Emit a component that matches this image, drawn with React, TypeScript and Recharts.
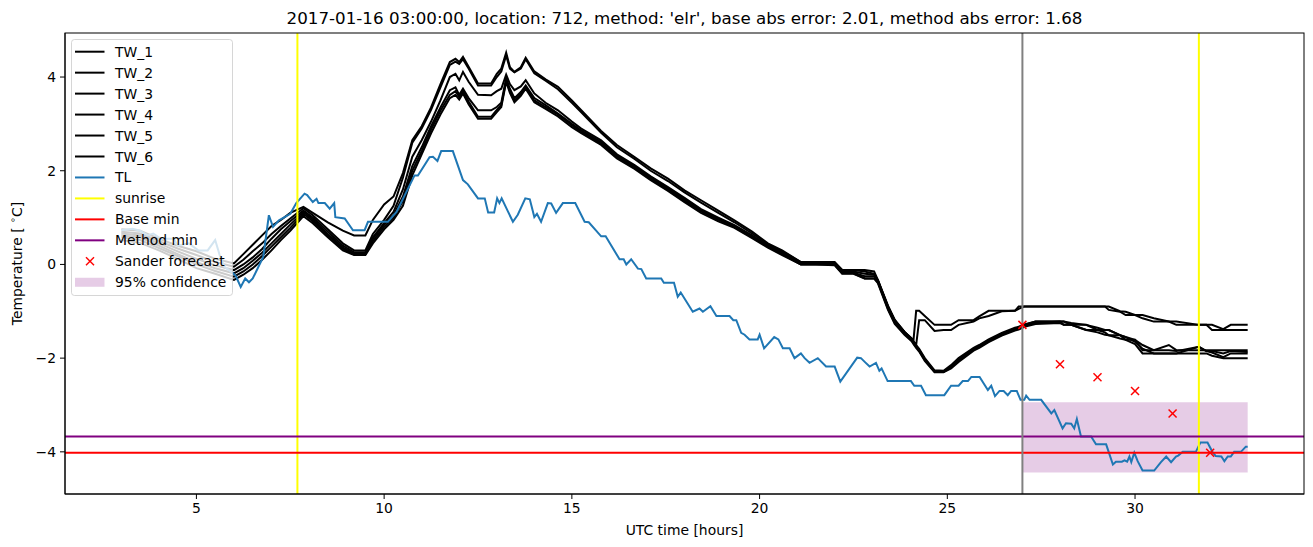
import React from "react";
import {
  ComposedChart,
  Line,
  Scatter,
  XAxis,
  YAxis,
  ReferenceLine,
  ReferenceArea,
} from "recharts";

// time grid (hours UTC) shared by the six TW series
const twHours = [
  3.0, 3.5, 4.0, 4.5, 5.0, 5.5, 6.0, 6.25, 6.5, 6.75,
  7.0, 7.25, 7.5, 7.85, 8.1, 8.5, 8.9, 9.2, 9.5, 9.7,
  10.0, 10.25, 10.5, 10.75, 11.0, 11.25, 11.5, 11.75, 11.9, 12.0,
  12.1, 12.25, 12.5, 12.85, 13.0, 13.12, 13.25, 13.35, 13.47, 13.64,
  13.77, 14.0, 14.3, 14.63, 15.0, 15.25, 15.78, 16.2, 16.67, 17.1,
  17.56, 18.0, 18.44, 18.9, 19.33, 19.8, 20.22, 20.6, 21.1, 21.5,
  22.0, 22.2, 22.5, 22.8, 23.05, 23.15, 23.42, 23.6, 23.86, 24.05,
  24.1, 24.17, 24.25, 24.4, 24.66, 24.9, 25.1, 25.3, 25.7, 25.85,
  26.1, 26.45, 26.8, 26.9, 27.05, 27.35, 28.0, 28.1, 28.3, 28.7,
  29.0, 29.2, 29.3, 29.6, 29.75, 30.0, 30.2, 30.5, 30.9, 31.1,
  31.7, 31.9, 32.05, 32.35, 32.55, 33.0,
];

const tw1 = [
  0.75, 0.72, 0.55, 0.40, 0.28, 0.12, 0.02, 0.22, 0.42, 0.62,
  0.82, 0.95, 1.10, 1.23, 1.10, 0.90, 0.72, 0.62, 0.62, 0.95,
  1.28, 1.45, 1.95, 2.65, 2.95, 3.35, 3.85, 4.32, 4.39, 4.32,
  4.43, 4.22, 3.86, 3.86, 4.07, 4.18, 4.52, 4.21, 4.11, 4.21,
  4.41, 4.12, 3.95, 3.79, 3.50, 3.29, 2.85, 2.55, 2.29, 2.05,
  1.83, 1.58, 1.37, 1.15, 0.94, 0.70, 0.45, 0.30, 0.05, 0.05,
  0.05, -0.12, -0.12, -0.12, -0.15, -0.33, -0.88, -1.18, -1.44, -1.58,
  -1.61, -0.99, -0.99, -1.10, -1.29, -1.29, -1.29, -1.19, -1.19, -1.11,
  -0.99, -0.99, -0.99, -0.90, -0.90, -0.90, -0.90, -0.90, -0.90, -0.90,
  -0.90, -0.90, -0.97, -1.01, -1.08, -1.08, -1.15, -1.22, -1.22, -1.29,
  -1.29, -1.29, -1.29, -1.38, -1.29, -1.29,
];

const tw2 = [
  0.70, 0.66, 0.50, 0.34, 0.20, 0.05, -0.05, 0.10, 0.28, 0.45,
  0.65, 0.82, 0.98, 1.20, 1.05, 0.75, 0.45, 0.30, 0.30, 0.65,
  0.95, 1.25, 1.85, 2.60, 2.90, 3.30, 3.78, 4.26, 4.33, 4.28,
  4.38, 4.18, 3.82, 3.82, 4.00, 4.12, 4.46, 4.18, 4.10, 4.18,
  4.38, 4.08, 3.92, 3.74, 3.45, 3.25, 2.81, 2.50, 2.25, 2.00,
  1.78, 1.54, 1.32, 1.10, 0.90, 0.66, 0.43, 0.28, 0.05, 0.05,
  0.03, -0.12, -0.12, -0.15, -0.20, -0.35, -0.90, -1.20, -1.44, -1.60,
  -1.65, -1.72, -1.19, -1.19, -1.42, -1.40, -1.40, -1.29, -1.22, -1.15,
  -1.10, -1.00, -0.99, -0.95, -0.90, -0.90, -0.90, -0.90, -0.90, -0.90,
  -0.90, -0.90, -0.90, -1.00, -1.01, -1.08, -1.08, -1.15, -1.22, -1.22,
  -1.29, -1.29, -1.40, -1.40, -1.40, -1.40,
];

const tw3 = [
  0.66, 0.62, 0.45, 0.28, 0.12, -0.02, -0.12, 0.00, 0.15, 0.33,
  0.55, 0.75, 0.92, 1.15, 1.00, 0.70, 0.40, 0.26, 0.26, 0.58,
  0.88, 1.12, 1.60, 2.30, 2.65, 3.05, 3.50, 4.00, 4.07, 3.93,
  4.11, 3.90, 3.62, 3.61, 3.70, 3.75, 4.05, 3.85, 3.72, 3.80,
  3.93, 3.65, 3.45, 3.29, 3.05, 2.90, 2.65, 2.35, 2.12, 1.88,
  1.65, 1.42, 1.18, 1.00, 0.84, 0.62, 0.40, 0.25, 0.02, 0.02,
  0.02, -0.15, -0.15, -0.20, -0.22, -0.33, -0.90, -1.20, -1.44, -1.58,
  -1.64, -1.72, -1.80, -2.00, -2.26, -2.27, -2.15, -2.00, -1.78, -1.72,
  -1.60, -1.46, -1.35, -1.33, -1.28, -1.22, -1.22, -1.29, -1.29, -1.40,
  -1.40, -1.45, -1.51, -1.51, -1.61, -1.61, -1.83, -1.83, -1.72, -1.83,
  -1.83, -1.83, -1.83, -1.83, -1.83, -1.83,
];

const tw4 = [
  0.62, 0.58, 0.40, 0.22, 0.05, -0.08, -0.19, -0.08, 0.08, 0.25,
  0.45, 0.65, 0.85, 1.12, 0.96, 0.65, 0.36, 0.23, 0.23, 0.55,
  0.85, 1.05, 1.45, 2.10, 2.50, 2.95, 3.35, 3.72, 3.78, 3.62,
  3.75, 3.55, 3.29, 3.29, 3.36, 3.45, 3.97, 3.75, 3.55, 3.68,
  3.82, 3.55, 3.40, 3.22, 3.00, 2.86, 2.61, 2.32, 2.10, 1.85,
  1.62, 1.39, 1.16, 0.98, 0.82, 0.60, 0.40, 0.24, 0.02, 0.02,
  0.00, -0.18, -0.18, -0.25, -0.25, -0.35, -0.92, -1.22, -1.46, -1.60,
  -1.66, -1.74, -1.82, -2.02, -2.28, -2.29, -2.18, -2.02, -1.80, -1.74,
  -1.62, -1.48, -1.37, -1.35, -1.29, -1.22, -1.22, -1.22, -1.29, -1.29,
  -1.40, -1.40, -1.40, -1.51, -1.55, -1.61, -1.72, -1.83, -1.83, -1.85,
  -1.76, -1.85, -1.85, -1.90, -1.85, -1.87,
];

const tw5 = [
  0.58, 0.52, 0.35, 0.18, 0.00, -0.14, -0.26, -0.15, 0.00, 0.18,
  0.38, 0.58, 0.78, 1.08, 0.92, 0.62, 0.33, 0.21, 0.21, 0.50,
  0.80, 1.00, 1.35, 2.00, 2.42, 2.88, 3.28, 3.62, 3.70, 3.57,
  3.70, 3.48, 3.15, 3.15, 3.30, 3.40, 3.93, 3.70, 3.50, 3.64,
  3.79, 3.50, 3.36, 3.20, 2.97, 2.83, 2.58, 2.29, 2.07, 1.82,
  1.60, 1.36, 1.13, 0.95, 0.80, 0.58, 0.38, 0.22, 0.00, 0.00,
  0.00, -0.19, -0.19, -0.30, -0.30, -0.38, -0.95, -1.25, -1.48, -1.62,
  -1.68, -1.76, -1.84, -2.04, -2.29, -2.29, -2.20, -2.05, -1.82, -1.76,
  -1.64, -1.50, -1.39, -1.37, -1.31, -1.25, -1.22, -1.22, -1.25, -1.29,
  -1.35, -1.40, -1.40, -1.51, -1.55, -1.65, -1.80, -1.90, -1.90, -1.90,
  -1.76, -1.85, -1.88, -1.98, -1.90, -1.90,
];

const tw6 = [
  0.52, 0.46, 0.30, 0.12, -0.08, -0.20, -0.33, -0.22, -0.08, 0.10,
  0.30, 0.52, 0.72, 1.03, 0.88, 0.58, 0.30, 0.20, 0.20, 0.45,
  0.75, 0.95, 1.25, 1.90, 2.35, 2.80, 3.20, 3.55, 3.62, 3.52,
  3.65, 3.42, 3.11, 3.11, 3.25, 3.36, 3.90, 3.66, 3.46, 3.60,
  3.75, 3.46, 3.32, 3.16, 2.93, 2.80, 2.55, 2.26, 2.04, 1.80,
  1.57, 1.33, 1.10, 0.92, 0.78, 0.56, 0.36, 0.20, 0.00, 0.00,
  -0.02, -0.20, -0.20, -0.30, -0.30, -0.40, -0.97, -1.27, -1.50, -1.64,
  -1.70, -1.78, -1.86, -2.06, -2.30, -2.30, -2.22, -2.08, -1.84, -1.78,
  -1.66, -1.52, -1.41, -1.39, -1.33, -1.27, -1.25, -1.29, -1.29, -1.40,
  -1.45, -1.50, -1.51, -1.58, -1.61, -1.70, -1.90, -1.90, -1.90, -1.90,
  -1.90, -1.90, -1.95, -2.00, -2.00, -2.00,
];

// TL (air temperature), [hour, value]
const tlSeries: [number, number][] = [
  [3.0, 0.73], [3.3, 0.76], [3.5, 0.72], [3.7, 0.62], [3.85, 0.66], [4.05, 0.55],
  [4.4, 0.55], [4.5, 0.4], [4.8, 0.45], [5.05, 0.3], [5.3, 0.3], [5.5, 0.52],
  [5.62, 0.2], [5.75, -0.05], [5.98, -0.19], [6.05, -0.25], [6.18, -0.48], [6.3, -0.3],
  [6.4, -0.38], [6.5, -0.3], [6.78, 0.16], [6.93, 1.05], [7.04, 0.8], [7.2, 0.94],
  [7.35, 1.01], [7.5, 1.08], [7.66, 1.31], [7.88, 1.51], [7.95, 1.48], [8.1, 1.33],
  [8.2, 1.4], [8.25, 1.31], [8.42, 1.31], [8.55, 1.19], [8.67, 1.31], [8.7, 1.01],
  [8.95, 0.98], [9.17, 0.73], [9.48, 0.73], [9.57, 0.91], [10.1, 0.91], [10.33, 1.12],
  [10.81, 1.9], [10.9, 1.9], [11.21, 2.29], [11.3, 2.3], [11.42, 2.21], [11.52, 2.42],
  [11.83, 2.42], [12.1, 1.8], [12.23, 1.71], [12.5, 1.41], [12.68, 1.41], [12.77, 1.11],
  [12.93, 1.11], [13.01, 1.41], [13.07, 1.31], [13.13, 1.41], [13.43, 0.91], [13.56, 1.06],
  [13.76, 1.41], [13.88, 1.39], [14.0, 1.01], [14.07, 1.08], [14.18, 0.91], [14.36, 1.31],
  [14.45, 1.3], [14.58, 1.1], [14.76, 1.31], [15.09, 1.31], [15.34, 0.91], [15.45, 0.9],
  [15.78, 0.6], [15.9, 0.6], [16.27, 0.11], [16.38, 0.11], [16.45, 0.0], [16.58, 0.11],
  [16.76, -0.09], [16.85, -0.1], [16.98, -0.3], [17.38, -0.3], [17.45, -0.39], [17.72, -0.39],
  [17.82, -0.69], [17.9, -0.6], [18.22, -1.01], [18.4, -0.94], [18.49, -1.01], [18.69, -0.89],
  [18.85, -1.1], [19.2, -1.1], [19.3, -1.19], [19.38, -1.19], [19.51, -1.46], [19.6, -1.5],
  [19.73, -1.6], [19.95, -1.6], [20.0, -1.5], [20.12, -1.79], [20.39, -1.55], [20.5, -1.6],
  [20.62, -1.79], [20.8, -1.79], [20.93, -2.0], [21.1, -1.9], [21.2, -2.0], [21.33, -2.1],
  [21.55, -2.0], [21.77, -2.18], [22.0, -2.18], [22.15, -2.5], [22.6, -1.99], [22.7, -2.0],
  [22.8, -2.08], [22.93, -2.18], [23.1, -2.1], [23.19, -2.27], [23.25, -2.22], [23.41, -2.49],
  [24.03, -2.49], [24.12, -2.59], [24.3, -2.59], [24.43, -2.79], [24.92, -2.79], [25.1, -2.59],
  [25.3, -2.59], [25.41, -2.49], [25.55, -2.49], [25.64, -2.4], [25.86, -2.4], [26.08, -2.68],
  [26.17, -2.59], [26.27, -2.81], [26.39, -2.7], [26.5, -2.7], [26.61, -2.79], [26.7, -2.7],
  [26.85, -2.7], [26.95, -2.89], [27.05, -2.89], [27.1, -2.8], [27.19, -2.89], [27.5, -2.89],
  [27.77, -3.18], [27.85, -3.11], [28.07, -3.5], [28.16, -3.39], [28.3, -3.4], [28.38, -3.5],
  [28.45, -3.3], [28.56, -3.67], [28.83, -3.67], [28.96, -3.84], [29.23, -3.84], [29.41, -4.27],
  [29.49, -4.21], [29.65, -4.21], [29.72, -4.18], [29.79, -4.21], [29.85, -4.1], [29.9, -4.22],
  [29.98, -4.02], [30.07, -4.2], [30.2, -4.4], [30.51, -4.4], [30.69, -4.22], [30.83, -4.1],
  [30.96, -4.22], [31.09, -4.1], [31.15, -4.08], [31.27, -4.0], [31.62, -4.0], [31.74, -3.8],
  [31.93, -3.8], [32.06, -4.0], [32.15, -4.09], [32.3, -4.1], [32.38, -4.2], [32.47, -4.1],
  [32.55, -4.1], [32.64, -4.0], [32.82, -4.0], [32.95, -3.89], [33.0, -3.89],
];

const sanderHours = [27, 28, 29, 30, 31, 32];
const sanderValues = [-1.29, -2.13, -2.41, -2.7, -3.18, -4.02];

const sunriseHours = [7.69, 31.7];
const forecastHour = 27;
const baseMin = -4.02;
const methodMin = -3.675;
const confFrom = 27;
const confTo = 33;
const confLow = -4.44;
const confHigh = -2.94;

const xTicks = [5, 10, 15, 20, 25, 30];
const yTicks = [-4, -2, 0, 2, 4];

const twSeries = [tw1, tw2, tw3, tw4, tw5, tw6].map((vals) =>
  twHours.map((h, i) => ({ h, v: vals[i] }))
);
const tlData = tlSeries.map(([h, v]) => ({ h, v }));
const sanderData = sanderHours.map((h, i) => ({ h, v: sanderValues[i] }));

const FONT = "DejaVu Sans, sans-serif";
const LW = 2;
const fmt = (v: number) => (v < 0 ? `\u2212${Math.abs(v)}` : `${v}`);

const XMark = (props: any) => {
  const { cx, cy } = props;
  const s = 4;
  return (
    <g>
      <line x1={cx - s} y1={cy - s} x2={cx + s} y2={cy + s} stroke="#ff0000" strokeWidth={1.5} />
      <line x1={cx - s} y1={cy + s} x2={cx + s} y2={cy - s} stroke="#ff0000" strokeWidth={1.5} />
    </g>
  );
};

const legendItems = [
  { label: "TW_1", kind: "line", color: "#000000" },
  { label: "TW_2", kind: "line", color: "#000000" },
  { label: "TW_3", kind: "line", color: "#000000" },
  { label: "TW_4", kind: "line", color: "#000000" },
  { label: "TW_5", kind: "line", color: "#000000" },
  { label: "TW_6", kind: "line", color: "#000000" },
  { label: "TL", kind: "line", color: "#1f77b4" },
  { label: "sunrise", kind: "line", color: "#ffff00" },
  { label: "Base min", kind: "line", color: "#ff0000" },
  { label: "Method min", kind: "line", color: "#800080" },
  { label: "Sander forecast", kind: "x", color: "#ff0000" },
  { label: "95% confidence", kind: "patch", color: "#800080" },
];

export default function App() {
  return (
    <div style={{ position: "relative", width: 1313, height: 547, background: "#fff", fontFamily: FONT }}>
      <style>{"body{margin:0;}"}</style>
      <ComposedChart width={1313} height={547} margin={{ top: 33, right: 9, bottom: 0, left: 0 }}>
        <XAxis
          type="number"
          dataKey="h"
          domain={[1.5, 34.5]}
          ticks={xTicks}
          allowDataOverflow
          height={53}
          tickSize={5}
          tickMargin={4}
          stroke="#000"
          tick={{ fill: "#000", fontSize: 13.9, fontFamily: FONT }}
        />
        <YAxis
          type="number"
          domain={[-4.9, 4.94]}
          ticks={yTicks}
          allowDataOverflow
          width={65}
          tickSize={5}
          tickMargin={4}
          stroke="#000"
          tickFormatter={fmt}
          tick={{ fill: "#000", fontSize: 13.9, fontFamily: FONT }}
        />
        <ReferenceArea
          x1={confFrom}
          x2={confTo}
          y1={confLow}
          y2={confHigh}
          fill="#800080"
          fillOpacity={0.2}
          stroke="none"
        />
        {twSeries.map((d, i) => (
          <Line
            key={`tw${i}`}
            data={d}
            dataKey="v"
            type="linear"
            stroke="#000"
            strokeWidth={LW}
            dot={false}
            isAnimationActive={false}
          />
        ))}
        <Line
          data={tlData}
          dataKey="v"
          type="linear"
          stroke="#1f77b4"
          strokeWidth={LW}
          dot={false}
          isAnimationActive={false}
        />
        {sunriseHours.map((h) => (
          <ReferenceLine key={`sr${h}`} x={h} stroke="#ffff00" strokeWidth={LW} />
        ))}
        <ReferenceLine y={baseMin} stroke="#ff0000" strokeWidth={LW} />
        <ReferenceLine y={methodMin} stroke="#800080" strokeWidth={LW} />
        <ReferenceLine x={forecastHour} stroke="#808080" strokeWidth={LW} />
        <Scatter data={sanderData} dataKey="v" shape={XMark} isAnimationActive={false} />
      </ComposedChart>
      <svg
        width={1313}
        height={547}
        style={{ position: "absolute", left: 0, top: 0, pointerEvents: "none" }}
        fontFamily={FONT}
      >
        <rect x={65} y={33} width={1239} height={461} fill="none" stroke="#000" strokeWidth={1} />
        <text x={684.5} y={24} textAnchor="middle" fontSize={16.7} fill="#000">
          2017-01-16 03:00:00, location: 712, method: 'elr', base abs error: 2.01, method abs error: 1.68
        </text>
        <text x={684.5} y={535} textAnchor="middle" fontSize={13.9} fill="#000">
          UTC time [hours]
        </text>
        <text
          transform="translate(22,263.5) rotate(-90)"
          textAnchor="middle"
          fontSize={13.9}
          fill="#000"
        >
          Temperature [ <tspan fontSize={9.7} dy={-6}>∘</tspan>
          <tspan dy={6}>C]</tspan>
        </text>
        <rect
          x={71.5}
          y={39.5}
          width={161}
          height={256}
          rx={3}
          fill="#ffffff"
          fillOpacity={0.8}
          stroke="#cccccc"
          strokeOpacity={0.8}
        />
        {legendItems.map((it, i) => {
          const cy = 51.7 + i * 20.96;
          return (
            <g key={it.label}>
              {it.kind === "line" && (
                <line x1={75} y1={cy} x2={104.5} y2={cy} stroke={it.color} strokeWidth={LW} />
              )}
              {it.kind === "x" && (
                <g>
                  <line x1={86} y1={cy - 4} x2={94} y2={cy + 4} stroke={it.color} strokeWidth={1.5} />
                  <line x1={86} y1={cy + 4} x2={94} y2={cy - 4} stroke={it.color} strokeWidth={1.5} />
                </g>
              )}
              {it.kind === "patch" && (
                <rect x={75} y={cy - 4.5} width={29.5} height={9} fill={it.color} fillOpacity={0.2} />
              )}
              <text x={115} y={cy} dominantBaseline="central" fontSize={13.9} fill="#000">
                {it.label}
              </text>
            </g>
          );
        })}
      </svg>
    </div>
  );
}
